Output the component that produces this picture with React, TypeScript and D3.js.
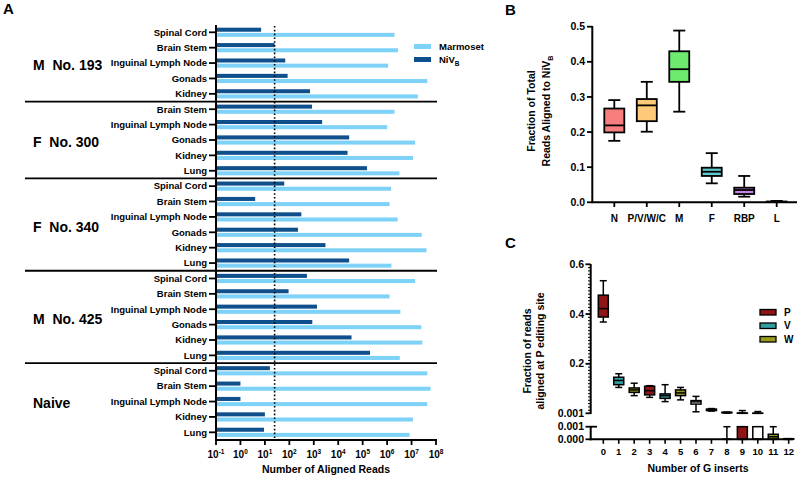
import React from "react";
import * as d3 from "d3";

// ---------- Panel A data ----------
const groupNames = ["M  No. 193", "F  No. 300", "F  No. 340", "M  No. 425", "Naive"];
const groupTissues = [
  ["Spinal Cord", "Brain Stem", "Inguinal Lymph Node", "Gonads", "Kidney"],
  ["Brain Stem", "Inguinal Lymph Node", "Gonads", "Kidney", "Lung"],
  ["Spinal Cord", "Brain Stem", "Inguinal Lymph Node", "Gonads", "Kidney", "Lung"],
  ["Spinal Cord", "Brain Stem", "Inguinal Lymph Node", "Gonads", "Kidney", "Lung"],
  ["Spinal Cord", "Brain Stem", "Inguinal Lymph Node", "Kidney", "Lung"],
];
const nivReads = [
  [7, 25, 68, 85, 700],
  [850, 2200, 28000, 24000, 150000],
  [62, 4, 310, 225, 3000, 28000],
  [525, 93, 1350, 870, 35000, 200000],
  [16, 1, 1, 10, 9.2],
];
const marmosetReads = [
  [2.0e6, 2.8e6, 1.1e6, 4.4e7, 1.8e7],
  [2.0e6, 1.0e6, 1.4e7, 1.15e7, 3.2e6],
  [1.45e6, 1.26e6, 2.7e6, 2.6e7, 4.1e7, 1.5e6],
  [1.4e7, 1.26e6, 3.5e6, 2.5e7, 2.75e7, 3.3e6],
  [4.4e7, 6.0e7, 4.4e7, 1.15e7, 8.3e6],
];
const threshold = 25;
const xExponents = [-1, 0, 1, 2, 3, 4, 5, 6, 7, 8];

// ---------- Panel B data ----------
const geneCats = ["N", "P/V/W/C", "M", "F", "RBP", "L"];
// [min, q1, median, q3, max]
const geneStats = [
  [0.175, 0.199, 0.219, 0.267, 0.291],
  [0.201, 0.231, 0.276, 0.294, 0.343],
  [0.258, 0.343, 0.379, 0.43, 0.489],
  [0.054, 0.075, 0.087, 0.0985, 0.14],
  [0.016, 0.0236, 0.035, 0.0416, 0.075],
  [0.0005, 0.001, 0.0015, 0.002, 0.004],
];
const geneColors = ["#F77E7E", "#FFC97A", "#6EEB6E", "#62CACA", "#C583E3", "#B0B0B0"];
const bTicks = [0, 0.1, 0.2, 0.3, 0.4, 0.5];

// ---------- Panel C data ----------
const gInserts = ["0", "1", "2", "3", "4", "5", "6", "7", "8", "9", "10", "11", "12"];
const upperStats: (number[] | null)[] = [
  [0.368, 0.388, 0.422, 0.476, 0.534],
  [0.105, 0.116, 0.133, 0.146, 0.16],
  [0.072, 0.085, 0.095, 0.103, 0.122],
  [0.065, 0.075, 0.092, 0.11, 0.112],
  [0.048, 0.061, 0.072, 0.079, 0.116],
  [0.055, 0.072, 0.083, 0.095, 0.105],
  [0.007, 0.038, 0.047, 0.052, 0.069],
  [0.01, 0.012, 0.015, 0.018, 0.02],
  [0.002, 0.003, 0.004, 0.005, 0.006],
  [0.001, 0.001, 0.0015, 0.002, 0.012],
  [0.001, 0.001, 0.001, 0.0012, 0.008],
  null,
  null,
];
const lowerStats: (number[] | null)[] = [
  null, null, null, null, null, null, null, null,
  [0, 0, 0, 0, 0.001],
  [0, 0, 0, 0.001, 0.001],
  [0, 0, 0, 0.001, 0.001],
  [0, 0, 0.0002, 0.0004, 0.001],
  [0, 0, 0, 0.00005, 0.00005],
];
const insertColors = [
  "#8E1616", "#349CA3", "#979A1E", "#8E1616", "#349CA3", "#979A1E",
  "#FFFFFF", "#222222", "#979A1E", "#8E1616", "#FFFFFF", "#979A1E", "#8E1616",
];
const legendC = ["P", "V", "W"];
const legendCColors = ["#8E1616", "#349CA3", "#979A1E"];
const cMajorTicks = [0.6, 0.4, 0.2];

const FONT = "'Liberation Sans', Arial, Helvetica, sans-serif";
const MARM = "#7FD2F7";
const NIV = "#0F4F8C";

function PanelA() {
  const x = d3.scaleLog().domain([0.1, 1e8]).range([216, 436]);
  const rows: { g: number; t: string; niv: number; marm: number; id: string }[] = [];
  groupTissues.forEach((ts, g) =>
    ts.forEach((t, i) => rows.push({ g, t, niv: nivReads[g][i], marm: marmosetReads[g][i], id: g + "-" + i }))
  );
  const y = d3.scaleBand().domain(rows.map((r) => r.id)).range([24.6, 440]);
  const inner = d3.scaleBand().domain(["niv", "marm"]).range([-4.6, 4.6]).paddingInner(0.22);
  const c = (id: string) => (y(id) as number) + y.bandwidth() / 2;

  const seps: number[] = [];
  let idx = 0;
  groupTissues.forEach((ts, g) => {
    idx += ts.length;
    if (g < groupTissues.length - 1) {
      seps.push((y(rows[idx - 1].id) as number) + y.bandwidth());
    }
  });
  let start = 0;
  const groupCenters = groupTissues.map((ts) => {
    const a = c(rows[start].id);
    const b = c(rows[start + ts.length - 1].id);
    start += ts.length;
    return (a + b) / 2;
  });

  return (
    <g fontFamily={FONT} fontWeight="bold">
      <text x={3} y={14} fontSize={15}>A</text>
      {rows.map((r) => (
        <g key={r.id}>
          <rect x={x(0.1)} y={c(r.id) + (inner("niv") as number)} width={x(r.niv) - x(0.1)} height={inner.bandwidth()} fill={NIV} />
          <rect x={x(0.1)} y={c(r.id) + (inner("marm") as number)} width={x(r.marm) - x(0.1)} height={inner.bandwidth()} fill={MARM} />
          <line x1={209} x2={216} y1={c(r.id)} y2={c(r.id)} stroke="#000" strokeWidth={1.8} />
          <text x={207} y={c(r.id)} dy="0.35em" textAnchor="end" fontSize={9.5}>{r.t}</text>
        </g>
      ))}
      {seps.map((s, i) => (
        <line key={i} x1={25} x2={437} y1={s} y2={s} stroke="#000" strokeWidth={1.8} />
      ))}
      {groupNames.map((n, i) => (
        <text key={n} x={33} y={groupCenters[i] + 2} dy="0.35em" fontSize={14} style={{ whiteSpace: "pre" }}>{n}</text>
      ))}
      <line x1={x(threshold)} x2={x(threshold)} y1={26} y2={440} stroke="#000" strokeWidth={1.6} strokeDasharray="1.6,2.2" />
      <line x1={216} x2={216} y1={25} y2={441} stroke="#000" strokeWidth={2} />
      <line x1={215} x2={437} y1={440} y2={440} stroke="#000" strokeWidth={2} />
      {xExponents.map((e) => (
        <g key={e}>
          <line x1={x(Math.pow(10, e))} x2={x(Math.pow(10, e))} y1={440} y2={445} stroke="#000" strokeWidth={1.8} />
          <text x={x(Math.pow(10, e))} y={458} textAnchor="middle" fontSize={10}>
            10<tspan dy={-4} fontSize={6.5}>{e}</tspan>
          </text>
        </g>
      ))}
      <text x={326} y={473} textAnchor="middle" fontSize={10.5}>Number of Aligned Reads</text>
      <rect x={414} y={44} width={17} height={5} fill={MARM} />
      <rect x={414} y={57} width={17} height={5} fill={NIV} />
      <text x={439} y={46.5} dy="0.35em" fontSize={9.5}>Marmoset</text>
      <text x={439} y={59.5} dy="0.35em" fontSize={9.5}>NiV<tspan dy={3} fontSize={6.5}>B</tspan></text>
    </g>
  );
}

function Box({ cx, w, cap, s, y, fill, sw }: { cx: number; w: number; cap: number; s: number[]; y: (v: number) => number; fill: string; sw: number }) {
  const [mn, q1, md, q3, mx] = s;
  return (
    <g stroke="#000" strokeWidth={sw}>
      <line x1={cx} x2={cx} y1={y(mx)} y2={y(q3)} />
      <line x1={cx} x2={cx} y1={y(q1)} y2={y(mn)} />
      <line x1={cx - cap / 2} x2={cx + cap / 2} y1={y(mx)} y2={y(mx)} />
      <line x1={cx - cap / 2} x2={cx + cap / 2} y1={y(mn)} y2={y(mn)} />
      <rect x={cx - w / 2} y={y(q3)} width={w} height={Math.max(0, y(q1) - y(q3))} fill={fill} />
      <line x1={cx - w / 2} x2={cx + w / 2} y1={y(md)} y2={y(md)} />
    </g>
  );
}

function PanelB() {
  const y = d3.scaleLinear().domain([0, 0.5]).range([202.3, 26.7]);
  const x = d3.scalePoint().domain(geneCats).range([614.3, 776.7]);
  return (
    <g fontFamily={FONT} fontWeight="bold">
      <text x={505} y={15} fontSize={15}>B</text>
      {geneCats.map((g, i) => (
        <Box key={g} cx={x(g) as number} w={20} cap={12} s={geneStats[i]} y={y} fill={geneColors[i]} sw={1.8} />
      ))}
      <line x1={592.3} x2={592.3} y1={26} y2={203} stroke="#000" strokeWidth={2} />
      <line x1={591.5} x2={797} y1={202.3} y2={202.3} stroke="#000" strokeWidth={2} />
      {bTicks.map((t) => (
        <g key={t}>
          <line x1={587} x2={592.3} y1={y(t)} y2={y(t)} stroke="#000" strokeWidth={1.8} />
          <text x={585} y={y(t)} dy="0.35em" textAnchor="end" fontSize={10.5}>{t.toFixed(1)}</text>
        </g>
      ))}
      {geneCats.map((g) => (
        <g key={g}>
          <line x1={x(g)} x2={x(g)} y1={202.3} y2={207} stroke="#000" strokeWidth={1.8} />
          <text x={x(g)} y={221.5} textAnchor="middle" fontSize={10}>{g}</text>
        </g>
      ))}
      <text transform="translate(535,111) rotate(-90)" textAnchor="middle" fontSize={10.5}>Fraction of Total</text>
      <text transform="translate(549.5,111) rotate(-90)" textAnchor="middle" fontSize={10.5}>
        Reads Aligned to NiV<tspan dy={3} fontSize={7}>B</tspan>
      </text>
    </g>
  );
}

function PanelC() {
  const yU = d3.scaleLinear().domain([0.001, 0.6]).range([413.3, 264.3]);
  const yL = d3.scaleLinear().domain([0, 0.001]).range([439.3, 426.7]);
  const x = d3.scalePoint().domain(gInserts).range([603.3, 788.7]);
  const minor: number[] = [];
  for (let i = 1; i < 45; i++) if (i % 15 !== 0) minor.push((i * 0.2) / 15);
  return (
    <g fontFamily={FONT} fontWeight="bold">
      <text x={505} y={248} fontSize={15}>C</text>
      {gInserts.map((g, i) => (
        <g key={g}>
          {upperStats[i] && (
            <Box cx={x(g) as number} w={10} cap={7} s={upperStats[i] as number[]} y={(v) => yU(Math.max(v, 0.001))} fill={insertColors[i]} sw={1.5} />
          )}
          {lowerStats[i] && (
            <Box cx={x(g) as number} w={10} cap={7} s={lowerStats[i] as number[]} y={yL} fill={insertColors[i]} sw={1.5} />
          )}
        </g>
      ))}
      <line x1={590.7} x2={590.7} y1={264} y2={414} stroke="#000" strokeWidth={2} />
      {minor.map((m, i) => (
        <line key={i} x1={588} x2={590.7} y1={yU(m)} y2={yU(m)} stroke="#000" strokeWidth={1} />
      ))}
      {cMajorTicks.map((t) => (
        <g key={t}>
          <line x1={585.5} x2={590.7} y1={yU(t)} y2={yU(t)} stroke="#000" strokeWidth={1.8} />
          <text x={584} y={yU(t)} dy="0.35em" textAnchor="end" fontSize={10.5}>{t.toFixed(1)}</text>
        </g>
      ))}
      <line x1={585.5} x2={590.7} y1={yU(0.001)} y2={yU(0.001)} stroke="#000" strokeWidth={1.8} />
      <text x={584} y={yU(0.001)} dy="0.35em" textAnchor="end" fontSize={10.5}>0.001</text>
      <line x1={590.7} x2={590.7} y1={yL(0.001)} y2={yL(0) + 1} stroke="#000" strokeWidth={2} />
      <line x1={585.5} x2={597} y1={yL(0.001)} y2={yL(0.001)} stroke="#000" strokeWidth={1.8} />
      <line x1={585.5} x2={590.7} y1={yL(0)} y2={yL(0)} stroke="#000" strokeWidth={1.8} />
      <text x={584} y={yL(0.001)} dy="0.35em" textAnchor="end" fontSize={10.5}>0.001</text>
      <text x={584} y={yL(0)} dy="0.35em" textAnchor="end" fontSize={10.5}>0.000</text>
      <line x1={589.7} x2={793} y1={yL(0)} y2={yL(0)} stroke="#000" strokeWidth={2} />
      {gInserts.map((g) => (
        <g key={g}>
          <line x1={x(g)} x2={x(g)} y1={yL(0)} y2={yL(0) + 4.5} stroke="#000" strokeWidth={1.6} />
          <text x={x(g)} y={455} textAnchor="middle" fontSize={9.5}>{g}</text>
        </g>
      ))}
      <text x={698} y={472} textAnchor="middle" fontSize={10.5}>Number of G inserts</text>
      <text transform="translate(531,351) rotate(-90)" textAnchor="middle" fontSize={10.5}>Fraction of reads</text>
      <text transform="translate(544,351) rotate(-90)" textAnchor="middle" fontSize={10.5}>aligned at P editing site</text>
      {legendC.map((l, i) => (
        <g key={l}>
          <rect x={760} y={309.5 + i * 13.5} width={16} height={5.5} fill={legendCColors[i]} stroke="#000" strokeWidth={1.3} />
          <text x={784} y={312.3 + i * 13.5} dy="0.35em" fontSize={10}>{l}</text>
        </g>
      ))}
    </g>
  );
}

export default function App() {
  return (
    <svg width={800} height={478} style={{ position: "absolute", left: 0, top: 0, background: "#fff" }}>
      <rect width={800} height={478} fill="#fff" />
      <PanelA />
      <PanelB />
      <PanelC />
    </svg>
  );
}
